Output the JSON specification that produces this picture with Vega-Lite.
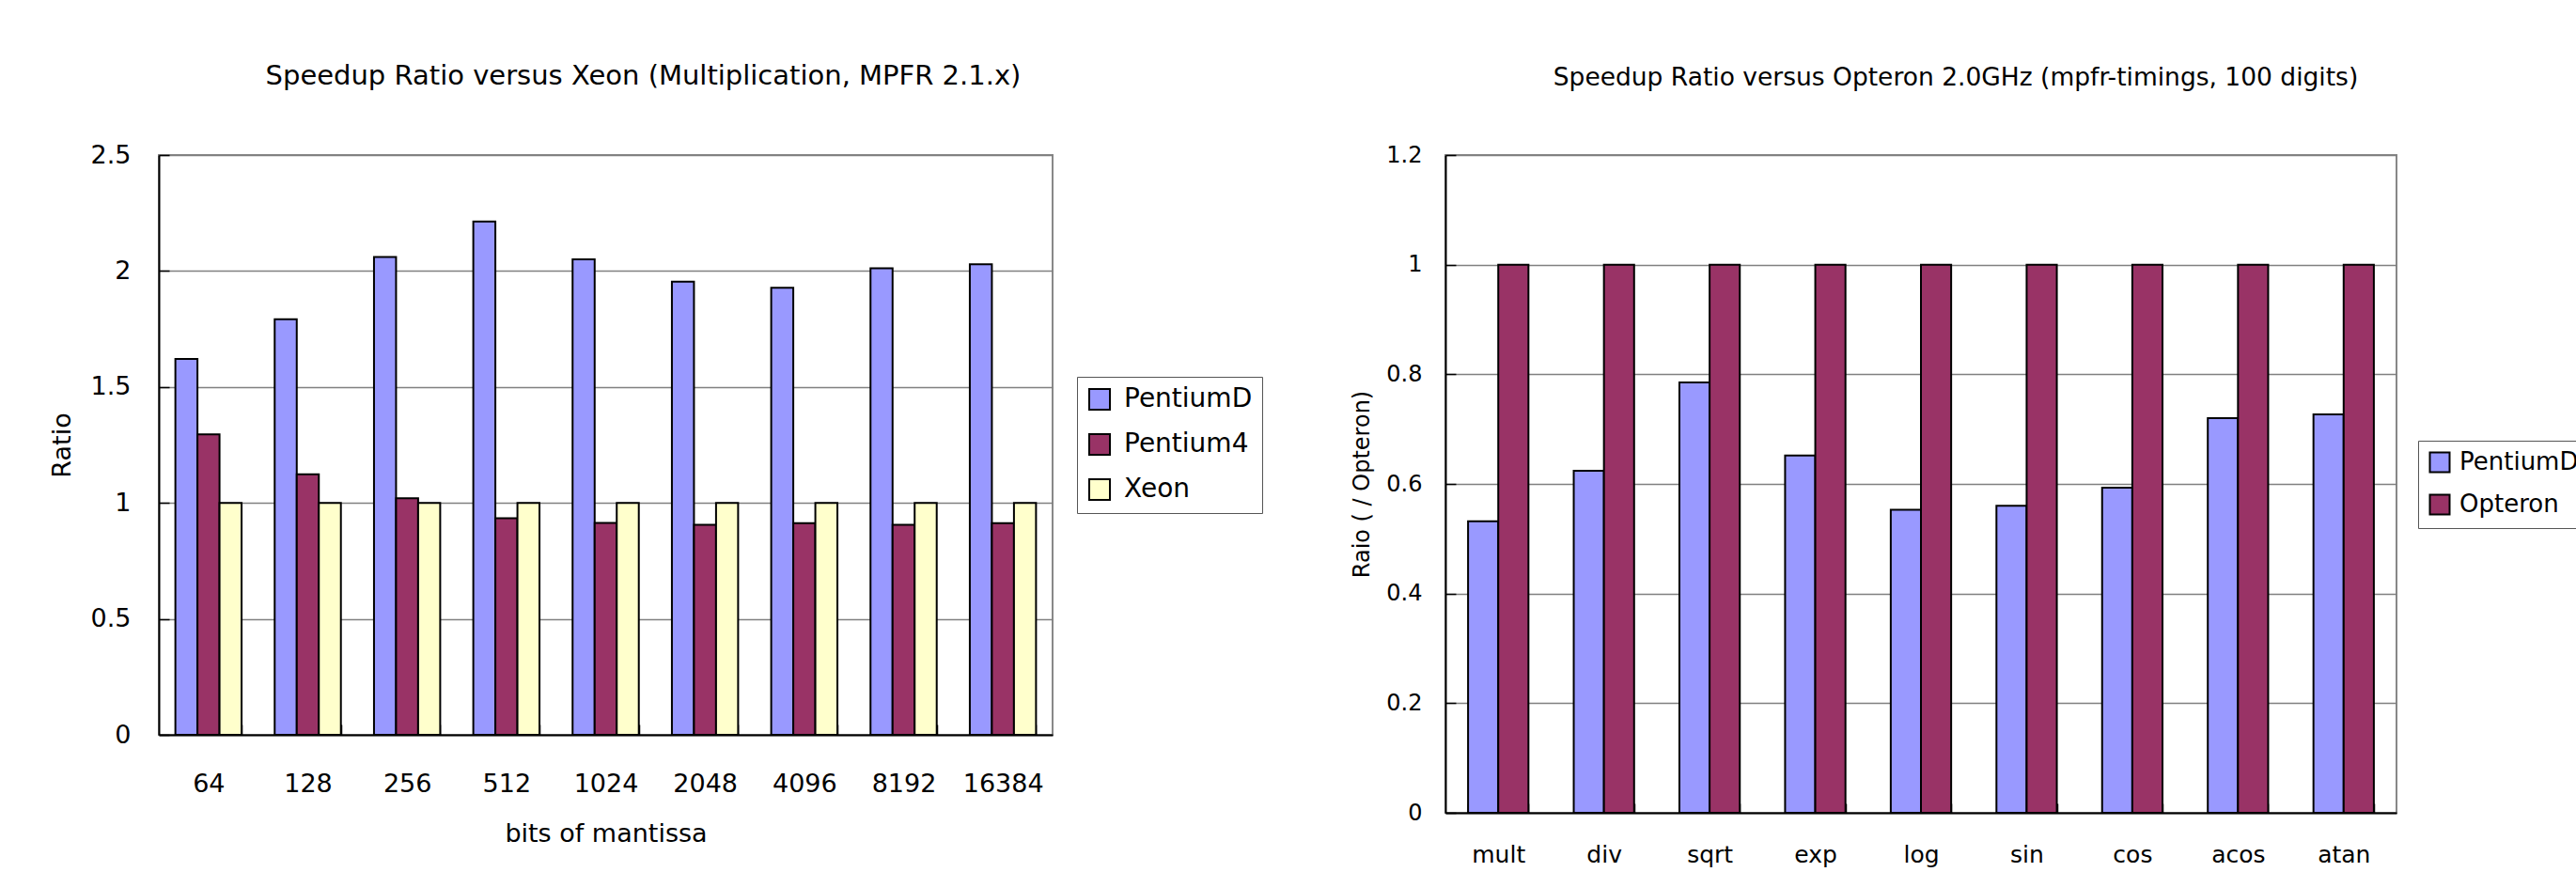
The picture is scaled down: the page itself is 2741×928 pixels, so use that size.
{
  "$schema": "https://vega.github.io/schema/vega-lite/v6.json",
  "background": "white",
  "padding": {"left": 51, "top": 66, "right": 0, "bottom": 0},
  "spacing": 91,
  "datasets": {
    "xeon": [
      {"bits": "64", "cpu": "PentiumD", "ratio": 1.621},
      {"bits": "64", "cpu": "Pentium4", "ratio": 1.296},
      {"bits": "64", "cpu": "Xeon", "ratio": 1},
      {"bits": "128", "cpu": "PentiumD", "ratio": 1.792},
      {"bits": "128", "cpu": "Pentium4", "ratio": 1.123},
      {"bits": "128", "cpu": "Xeon", "ratio": 1},
      {"bits": "256", "cpu": "PentiumD", "ratio": 2.06},
      {"bits": "256", "cpu": "Pentium4", "ratio": 1.02},
      {"bits": "256", "cpu": "Xeon", "ratio": 1},
      {"bits": "512", "cpu": "PentiumD", "ratio": 2.213},
      {"bits": "512", "cpu": "Pentium4", "ratio": 0.934},
      {"bits": "512", "cpu": "Xeon", "ratio": 1},
      {"bits": "1024", "cpu": "PentiumD", "ratio": 2.05},
      {"bits": "1024", "cpu": "Pentium4", "ratio": 0.914},
      {"bits": "1024", "cpu": "Xeon", "ratio": 1},
      {"bits": "2048", "cpu": "PentiumD", "ratio": 1.954},
      {"bits": "2048", "cpu": "Pentium4", "ratio": 0.906},
      {"bits": "2048", "cpu": "Xeon", "ratio": 1},
      {"bits": "4096", "cpu": "PentiumD", "ratio": 1.928},
      {"bits": "4096", "cpu": "Pentium4", "ratio": 0.913},
      {"bits": "4096", "cpu": "Xeon", "ratio": 1},
      {"bits": "8192", "cpu": "PentiumD", "ratio": 2.012},
      {"bits": "8192", "cpu": "Pentium4", "ratio": 0.906},
      {"bits": "8192", "cpu": "Xeon", "ratio": 1},
      {"bits": "16384", "cpu": "PentiumD", "ratio": 2.029},
      {"bits": "16384", "cpu": "Pentium4", "ratio": 0.913},
      {"bits": "16384", "cpu": "Xeon", "ratio": 1}
    ],
    "opteron": [
      {"func": "mult", "cpu": "PentiumD", "ratio": 0.532},
      {"func": "mult", "cpu": "Opteron", "ratio": 1},
      {"func": "div", "cpu": "PentiumD", "ratio": 0.624},
      {"func": "div", "cpu": "Opteron", "ratio": 1},
      {"func": "sqrt", "cpu": "PentiumD", "ratio": 0.785},
      {"func": "sqrt", "cpu": "Opteron", "ratio": 1},
      {"func": "exp", "cpu": "PentiumD", "ratio": 0.652},
      {"func": "exp", "cpu": "Opteron", "ratio": 1},
      {"func": "log", "cpu": "PentiumD", "ratio": 0.553},
      {"func": "log", "cpu": "Opteron", "ratio": 1},
      {"func": "sin", "cpu": "PentiumD", "ratio": 0.56},
      {"func": "sin", "cpu": "Opteron", "ratio": 1},
      {"func": "cos", "cpu": "PentiumD", "ratio": 0.593},
      {"func": "cos", "cpu": "Opteron", "ratio": 1},
      {"func": "acos", "cpu": "PentiumD", "ratio": 0.72},
      {"func": "acos", "cpu": "Opteron", "ratio": 1},
      {"func": "atan", "cpu": "PentiumD", "ratio": 0.727},
      {"func": "atan", "cpu": "Opteron", "ratio": 1}
    ]
  },
  "hconcat": [
    {
      "data": {"name": "xeon"},
      "width": 951,
      "height": 617,
      "title": {"text": "Speedup Ratio versus Xeon (Multiplication, MPFR 2.1.x)", "fontSize": 29, "fontWeight": "normal", "color": "black", "offset": 55, "dx": 40, "anchor": "middle", "frame": "group"},
      "mark": {"type": "bar", "stroke": "black", "strokeWidth": 2},
      "encoding": {
        "x": {
          "field": "bits", "type": "nominal", "sort": null,
          "scale": {"paddingInner": 0.3333, "paddingOuter": 0.1667},
          "axis": {"title": "bits of mantissa", "labelAngle": 0, "labelFontSize": 27, "titleFontSize": 27, "labelPadding": 50, "titlePadding": 27, "tickBand": "extent", "tickSize": -11}
        },
        "xOffset": {"field": "cpu", "type": "nominal", "sort": ["PentiumD", "Pentium4", "Xeon"]},
        "y": {
          "field": "ratio", "type": "quantitative",
          "scale": {"domain": [0, 2.5], "nice": false},
          "axis": {"title": "Ratio", "values": [0, 0.5, 1, 1.5, 2, 2.5], "format": "~g", "labelFontSize": 27, "titleFontSize": 27, "labelPadding": 41, "titlePadding": 16, "tickSize": -11}
        },
        "color": {
          "field": "cpu", "type": "nominal",
          "scale": {"domain": ["PentiumD", "Pentium4", "Xeon"], "range": ["#9999FF", "#993366", "#FFFFCC"]},
          "legend": {"title": null, "labelFontSize": 28, "symbolType": "square", "symbolSize": 484, "symbolStrokeColor": "black", "symbolStrokeWidth": 2, "offset": 26, "padding": 10, "rowPadding": 18, "labelOffset": 12, "strokeColor": "#555555"}
        }
      }
    },
    {
      "data": {"name": "opteron"},
      "width": 1012,
      "height": 700,
      "title": {"text": "Speedup Ratio versus Opteron 2.0GHz (mpfr-timings, 100 digits)", "fontSize": 26.5, "fontWeight": "normal", "color": "black", "offset": 57, "dx": 37, "anchor": "middle", "frame": "group"},
      "mark": {"type": "bar", "stroke": "black", "strokeWidth": 2},
      "encoding": {
        "x": {
          "field": "func", "type": "nominal", "sort": null,
          "scale": {"paddingInner": 0.4286, "paddingOuter": 0.2143},
          "axis": {"title": null, "labelAngle": 0, "labelFontSize": 25, "labelPadding": 42, "tickBand": "extent", "tickSize": -10}
        },
        "xOffset": {"field": "cpu", "type": "nominal", "sort": ["PentiumD", "Opteron"]},
        "y": {
          "field": "ratio", "type": "quantitative",
          "scale": {"domain": [0, 1.2], "nice": false},
          "axis": {"title": "Raio ( / Opteron)", "values": [0, 0.2, 0.4, 0.6, 0.8, 1, 1.2], "format": "~g", "labelFontSize": 24, "titleFontSize": 24, "labelPadding": 36, "titlePadding": 13, "tickSize": -11}
        },
        "color": {
          "field": "cpu", "type": "nominal",
          "scale": {"domain": ["PentiumD", "Opteron"], "range": ["#9999FF", "#993366"]},
          "legend": {"title": null, "labelFontSize": 26, "symbolType": "square", "symbolSize": 441, "symbolStrokeColor": "black", "symbolStrokeWidth": 2, "offset": 23, "padding": 10, "rowPadding": 15, "labelOffset": 8, "strokeColor": "#555555"}
        }
      }
    }
  ],
  "resolve": {
    "scale": {"color": "independent", "x": "independent", "y": "independent", "xOffset": "independent"},
    "legend": {"color": "independent"}
  },
  "config": {
    "font": "DejaVu Sans",
    "view": {"stroke": "#888888", "strokeWidth": 2},
    "axis": {
      "labelColor": "black", "titleColor": "black", "titleFontWeight": "normal",
      "domainColor": "black", "domainWidth": 2, "tickColor": "black", "tickWidth": 1.5,
      "gridColor": "#808080", "gridWidth": 1.5, "labelFont": "DejaVu Sans", "titleFont": "DejaVu Sans"
    },
    "legend": {"labelColor": "black", "labelFont": "DejaVu Sans", "layout": {"right": {"anchor": "middle"}}}
  }
}
